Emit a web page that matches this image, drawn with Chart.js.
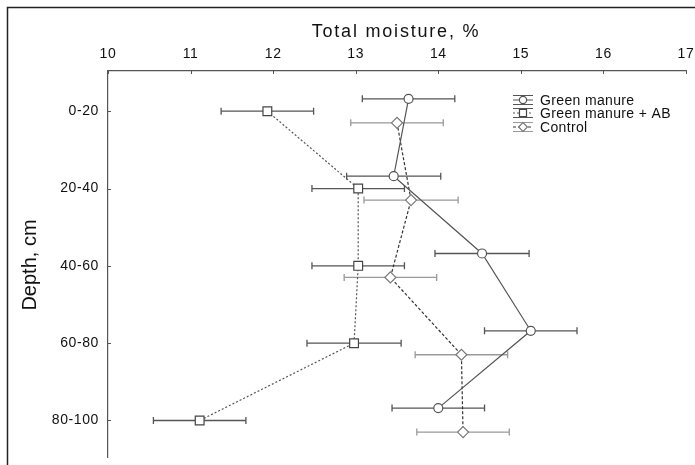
<!DOCTYPE html>
<html>
<head>
<meta charset="utf-8">
<script src="https://cdn.jsdelivr.net/npm/chart.js@4"></script>
<style>
    html, body { margin: 0; padding: 0; background: #fff; }
    #wrap { width: 695px; height: 465px; }
</style>
</head>
<body>
<div id="wrap"><canvas id="moistureChart" width="695" height="465"></canvas></div>
<script>
// Depth layers (y categories) and x ticks
const depthLabels = ['0-20', '20-40', '40-60', '60-80', '80-100'];
const moistureTicks = [10, 11, 12, 13, 14, 15, 16, 17];

// Total moisture, % (mean and error)
const greenManure = [13.64, 13.46, 14.53, 15.12, 14.00];
const greenManureErr = [0.56, 0.57, 0.57, 0.56, 0.56];

const greenManureAB = [11.93, 13.03, 13.03, 12.98, 11.11];
const greenManureABErr = [0.56, 0.56, 0.56, 0.57, 0.56];

const control = [13.50, 13.67, 13.42, 14.28, 14.30];
const controlErr = [0.56, 0.57, 0.56, 0.56, 0.56];

const FONT = '"Liberation Sans", Arial, sans-serif';

function toPoints(values, shift) {
    return values.map((v, i) => ({ x: v, y: i + shift }));
}

const seriesDefs = [
    { label: 'Green manure', values: greenManure, err: greenManureErr, shift: -0.16,
      style: 'circle', radius: 4.5, line: '#555', dash: [], bar: '#555', marker: '#555' },
    { label: 'Green manure + AB', values: greenManureAB, err: greenManureABErr, shift: 0,
      style: 'rect', radius: 6.2, line: '#555', dash: [2, 2], bar: '#555', marker: '#444' },
    { label: 'Control', values: control, err: controlErr, shift: 0.15,
      style: 'rectRot', radius: 5.5, line: '#333', dash: [3, 2], bar: '#999', marker: '#777' }
];

const datasets = seriesDefs.map(s => ({
    label: s.label,
    data: toPoints(s.values, s.shift),
    errors: s.err,
    barColor: s.bar,
    borderColor: s.line,
    borderWidth: 1.2,
    borderDash: s.dash,
    pointStyle: s.style,
    pointRadius: s.radius,
    pointBorderColor: s.marker,
    pointBorderWidth: 1.2,
    pointBackgroundColor: '#fff',
    showLine: true,
    tension: 0
}));

// Horizontal error bars with caps, drawn under the markers
const errorBarPlugin = {
    id: 'errorBars',
    beforeDraw(chart) {
        chart.ctx.letterSpacing = '0.6px';
    },
    beforeDatasetsDraw(chart) {
        const ctx = chart.ctx;
        const xs = chart.scales.x;
        const ys = chart.scales.y;
        ctx.save();
        chart.data.datasets.forEach(ds => {
            ctx.strokeStyle = ds.barColor;
            ctx.lineWidth = 1.3;
            ds.data.forEach((p, i) => {
                const y = ys.getPixelForValue(p.y);
                const x1 = xs.getPixelForValue(p.x - ds.errors[i]);
                const x2 = xs.getPixelForValue(p.x + ds.errors[i]);
                ctx.beginPath();
                ctx.moveTo(x1, y); ctx.lineTo(x2, y);
                ctx.moveTo(x1, y - 3.5); ctx.lineTo(x1, y + 3.5);
                ctx.moveTo(x2, y - 3.5); ctx.lineTo(x2, y + 3.5);
                ctx.stroke();
            });
        });
        ctx.restore();
    }
};

// Frame, inner ticks, axis titles and legend
const decorPlugin = {
    id: 'decor',
    afterDraw(chart) {
        const ctx = chart.ctx;
        const xs = chart.scales.x;
        const ys = chart.scales.y;
        const area = chart.chartArea;
        ctx.save();

        // outer frame (top and left edges visible)
        ctx.strokeStyle = '#222';
        ctx.lineWidth = 1.5;
        ctx.beginPath();
        ctx.moveTo(7.5, 465); ctx.lineTo(7.5, 7.5); ctx.lineTo(695, 7.5);
        ctx.stroke();

        // small inward ticks
        ctx.strokeStyle = '#555';
        ctx.lineWidth = 1;
        ctx.beginPath();
        moistureTicks.forEach(t => {
            const x = Math.round(xs.getPixelForValue(t)) + 0.5;
            ctx.moveTo(x, area.top); ctx.lineTo(x, area.top + 3);
        });
        depthLabels.forEach((d, i) => {
            const y = Math.round(ys.getPixelForValue(i)) + 0.5;
            ctx.moveTo(area.left, y); ctx.lineTo(area.left + 3, y);
        });
        ctx.stroke();

        // x axis title
        ctx.fillStyle = '#111';
        ctx.font = '18px ' + FONT;
        ctx.letterSpacing = '1.8px';
        ctx.textAlign = 'center';
        ctx.textBaseline = 'alphabetic';
        ctx.fillText('Total moisture, %', 396, 37);
        ctx.letterSpacing = '0px';

        // y axis title
        ctx.save();
        ctx.translate(36, 265);
        ctx.rotate(-Math.PI / 2);
        ctx.font = '20px ' + FONT;
        ctx.textAlign = 'center';
        ctx.fillText('Depth, cm', 0, 0);
        ctx.restore();

        // legend
        const lx = 523;
        const ly = [100, 113, 127];
        chart.data.datasets.forEach((ds, i) => {
            const y = ly[i];
            ctx.lineWidth = 1;
            ctx.strokeStyle = ds.barColor;
            ctx.setLineDash([]);
            ctx.beginPath();
            ctx.moveTo(lx - 10, y - 4.5); ctx.lineTo(lx + 10, y - 4.5);
            ctx.moveTo(lx - 10, y + 4.5); ctx.lineTo(lx + 10, y + 4.5);
            ctx.stroke();
            ctx.strokeStyle = ds.borderColor;
            ctx.setLineDash(ds.borderDash);
            ctx.beginPath();
            ctx.moveTo(lx - 10, y); ctx.lineTo(lx + 10, y);
            ctx.stroke();
            ctx.setLineDash([]);
            ctx.fillStyle = '#fff';
            ctx.strokeStyle = ds.pointBorderColor;
            ctx.lineWidth = 1.2;
            Chart.helpers.drawPoint(ctx, {
                pointStyle: ds.pointStyle,
                radius: ds.pointRadius * 0.8,
                borderWidth: 1.2,
                rotation: 0
            }, lx, y);
            ctx.fillStyle = '#111';
            ctx.font = '14px ' + FONT;
            ctx.letterSpacing = '0.35px';
            ctx.textAlign = 'left';
            ctx.textBaseline = 'middle';
            ctx.fillText(ds.label, 540, y + 1);
        });

        ctx.restore();
    }
};

const moistureChart = new Chart(document.getElementById('moistureChart'), {
    type: 'line',
    data: { datasets: datasets },
    options: {
        responsive: false,
        animation: false,
        layout: { padding: { top: 0, left: 0, right: 9, bottom: 7 } },
        plugins: {
            legend: { display: false },
            tooltip: { enabled: false }
        },
        scales: {
            x: {
                type: 'linear',
                position: 'top',
                min: 10,
                max: 17,
                afterBuildTicks: scale => {
                    scale.ticks = moistureTicks.map(v => ({ value: v }));
                },
                afterFit: scale => {
                    scale.height = 71;
                    scale.paddingLeft = 0;
                    scale.paddingRight = 0;
                },
                grid: { display: false, drawTicks: false },
                border: { display: true, color: '#555', width: 1.2 },
                ticks: {
                    padding: 8,
                    color: '#111',
                    font: { family: FONT, size: 14 },
                    maxRotation: 0
                }
            },
            y: {
                type: 'linear',
                reverse: true,
                min: -0.52,
                max: 4.48,
                afterBuildTicks: scale => {
                    scale.ticks = depthLabels.map((d, i) => ({ value: i }));
                },
                afterFit: scale => {
                    scale.width = 108;
                    scale.paddingTop = 0;
                    scale.paddingBottom = 0;
                },
                grid: { display: false, drawTicks: false },
                border: { display: true, color: '#555', width: 1.2 },
                ticks: {
                    padding: 9,
                    color: '#111',
                    font: { family: FONT, size: 14 },
                    callback: value => depthLabels[value] ?? ''
                }
            }
        }
    },
    plugins: [errorBarPlugin, decorPlugin]
});
</script>
</body>
</html>
